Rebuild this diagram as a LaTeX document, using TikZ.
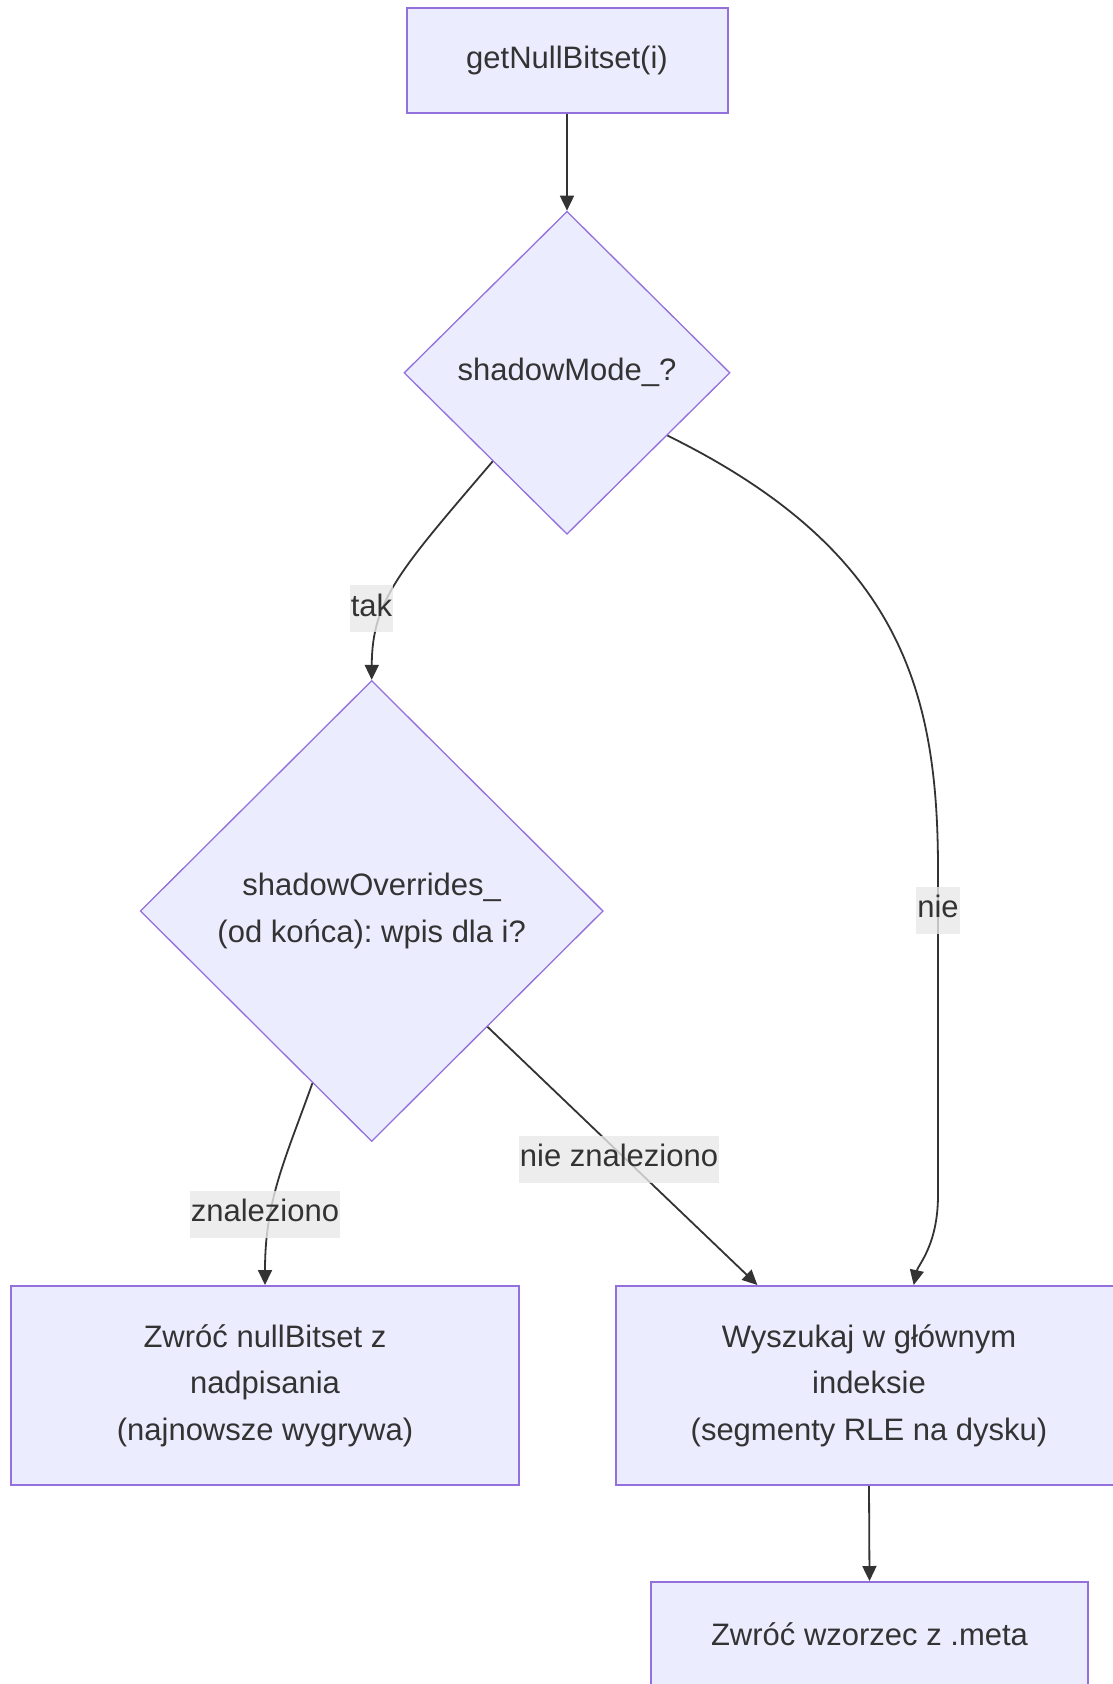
\documentclass[tikz,border=0pt]{standalone}
\usepackage{fontspec}
\setmainfont{Liberation Sans}
\usetikzlibrary{shapes.geometric,arrows.meta}
\definecolor{nodefill}{HTML}{ECECFF}
\definecolor{nodeline}{HTML}{9370DB}
\definecolor{ink}{HTML}{333333}
\definecolor{lblbg}{HTML}{E8E8E8}
\frenchspacing

\begin{document}
\begin{tikzpicture}[x=1pt,y=-1pt,
  every node/.style={font=\fontsize{31}{46.5}\selectfont, text=ink},
  procbox/.style={draw=nodeline, line width=2pt, fill=nodefill, rectangle, align=center, inner sep=0pt},
  decision/.style={draw=nodeline, line width=1.3pt, fill=nodefill, diamond, align=center, inner sep=0pt},
  flow/.style={draw=ink, line width=1.8pt, -{Triangle[length=15pt,width=14pt]}},
  edgelabel/.style={fill=lblbg, fill opacity=0.8, text opacity=1, inner xsep=1pt, inner ysep=0pt,
                    minimum height=47pt, text height=22pt, text depth=7pt}
]
\useasboundingbox (0,0) rectangle (1113,1684);
\clip (0,0) rectangle (1113,1684);

% nodes
\node[procbox, minimum width=321pt, minimum height=105pt] (start) at (567,60) {getNullBitset(i)};
\node[decision, minimum width=326pt, minimum height=323pt] (mode) at (567,372.8) {shadowMode\_?};
\node[decision, minimum width=463pt, minimum height=461pt] (ovr) at (371.7,911) {shadowOverrides\_\\(od końca): wpis dla i?};
\node[procbox, minimum width=508pt, minimum height=199pt] (hit) at (265,1385.5) {Zwróć nullBitset z\\nadpisania\\(najnowsze wygrywa)};
\node[procbox, minimum width=507pt, minimum height=199pt] (lookup) at (869,1385.5) {Wyszukaj w głównym\\indeksie\\(segmenty RLE na dysku)};
\node[procbox, minimum width=437pt, minimum height=105pt] (meta) at (869.5,1634.5) {Zwróć wzorzec z .meta};

% connectors
\draw[flow] (start.south) -- (mode.north);
\draw[flow] (mode.-130) .. controls (400,570) and (372,600) .. (ovr.north);
\draw[flow] (mode.-32) .. controls (900,550) and (938,690) .. (938,870)
            -- (938,1195) .. controls (938,1245) and (918,1265) .. (lookup.66.1);
\draw[flow] (ovr.-109) .. controls (285,1160) and (265,1200) .. (hit.north);
\draw[flow] (ovr.-45) -- (lookup.138.9);
\draw[flow] (lookup.south) -- (meta.north);

% connector labels
\node[edgelabel] (ltak) at (371.5,608.6) {tak};
\node[edgelabel] (lnie) at (938,910) {nie};
\node[edgelabel] (lfound) at (265,1214) {znaleziono};
\node[edgelabel] (lmiss) at (619,1159) {nie znaleziono};
\end{tikzpicture}
\end{document}
